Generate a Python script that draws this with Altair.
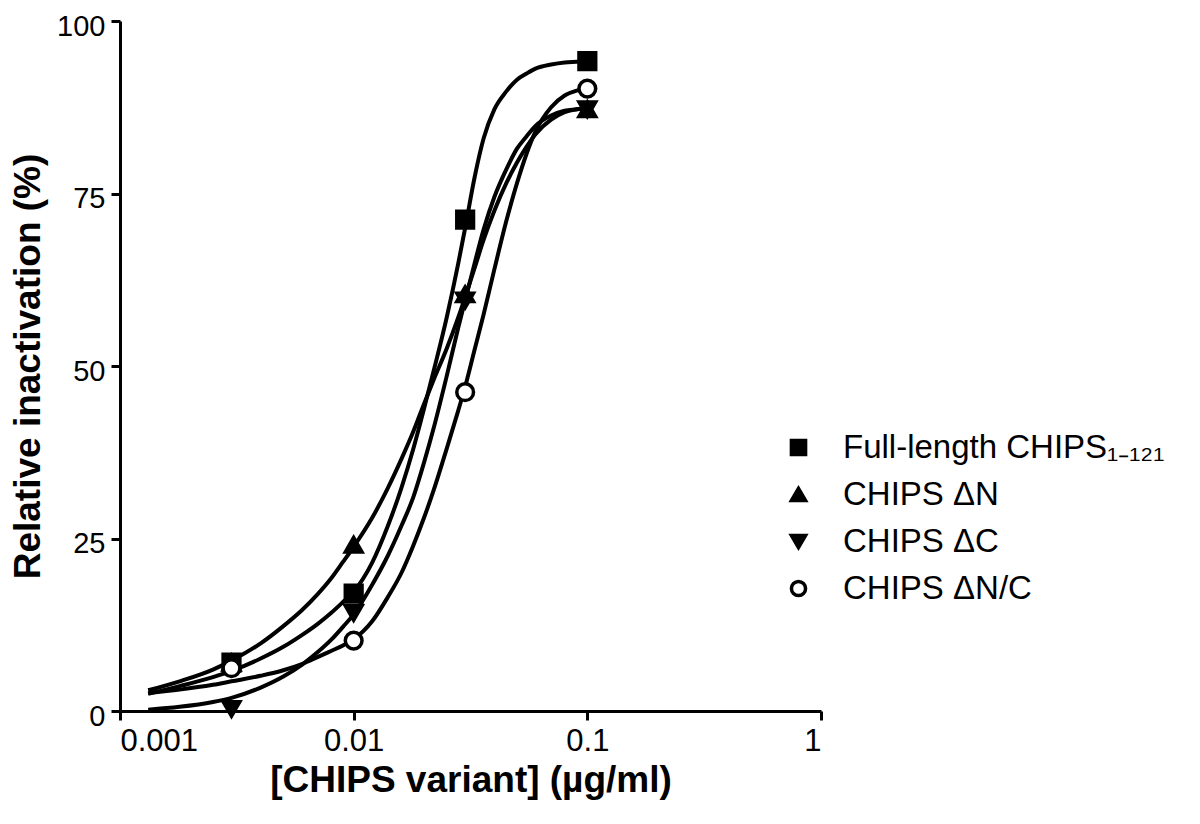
import altair as alt
import pandas as pd

# ---- data ----
series_names = ["Full-length CHIPS\u2081\u208b\u2081\u2082\u2081", "CHIPS \u0394N", "CHIPS \u0394C", "CHIPS \u0394N/C"]
shapes = ["square", "triangle-up", "triangle-down", "circle"]
fills = ["black", "black", "black", "white"]
strokes = ["black", "black", "black", "black"]

conc = [0.003, 0.01, 0.03, 0.1]
pts_full = [7.0, 17.0, 71.2, 94.2]
pts_dn = [7.0, 24.1, 60.4, 87.2]
pts_dc = [0.3, 14.2, 59.5, 87.2]
pts_dnc = [6.2, 10.2, 46.2, 90.2]

curve_x = [0.00132, 0.0018, 0.0025, 0.003, 0.004, 0.005, 0.006, 0.007, 0.008, 0.009,
           0.01, 0.012, 0.014, 0.016, 0.018, 0.02, 0.022, 0.025, 0.028, 0.03,
           0.033, 0.036, 0.04, 0.045, 0.05, 0.055, 0.06, 0.07, 0.08, 0.09, 0.1]
curve_full = [2.5, 3.6, 4.9, 5.8, 7.6, 9.3, 11.0, 12.6, 14.2, 15.8,
              17.3, 21.5, 26.8, 32.3, 38.0, 43.8, 49.3, 57.0, 64.8, 70.0,
              77.5, 83.0, 87.2, 89.8, 91.5, 92.4, 93.1, 93.7, 94.0, 94.1, 94.2]
curve_dn = [3.0, 4.3, 6.0, 7.3, 9.8, 12.3, 14.6, 16.9, 19.2, 21.6,
            23.8, 28.0, 32.3, 36.5, 40.5, 44.5, 48.0, 52.5, 57.0, 60.0,
            64.3, 68.3, 72.5, 76.5, 79.5, 81.8, 83.6, 85.7, 86.8, 87.2, 87.4]
curve_dc = [0.2, 0.6, 1.3, 1.9, 3.4, 5.0, 6.7, 8.5, 10.3, 12.2,
            14.0, 18.3, 22.5, 26.8, 31.0, 36.0, 41.0, 48.5, 55.5, 59.5,
            65.0, 69.8, 74.5, 78.5, 81.5, 83.3, 84.8, 86.3, 87.0, 87.2, 87.4]
curve_dnc = [2.6, 3.1, 3.8, 4.3, 5.1, 5.9, 6.8, 7.8, 8.7, 9.5,
             10.4, 13.0, 16.5, 20.0, 24.0, 28.0, 32.0, 38.0, 43.5, 47.0,
             52.5, 57.5, 64.0, 71.0, 76.5, 80.8, 84.0, 87.5, 89.2, 89.9, 90.2]

x_ticks = [0.001, 0.01, 0.1, 1]
y_ticks = [0, 25, 50, 75, 100]

# ---- tables ----
pt_rows = []
for name, vals in zip(series_names, [pts_full, pts_dn, pts_dc, pts_dnc]):
    for xv, yv in zip(conc, vals):
        pt_rows.append({"series": name, "x": xv, "y": yv})
pts_df = pd.DataFrame(pt_rows)

cv_rows = []
for name, vals in zip(series_names, [curve_full, curve_dn, curve_dc, curve_dnc]):
    for i, (xv, yv) in enumerate(zip(curve_x, vals)):
        cv_rows.append({"series": name, "x": xv, "y": yv, "i": i})
cv_df = pd.DataFrame(cv_rows)

FONT = "Liberation Sans"

x_enc = alt.X("x:Q",
              scale=alt.Scale(type="log", domain=[0.001, 1]),
              axis=alt.Axis(values=x_ticks, labelExpr="format(datum.value, '~g')",
                            title="[CHIPS variant] (\u00b5g/ml)", titleFontSize=37,
                            labelFontSize=31, titlePadding=6))
y_enc = alt.Y("y:Q",
              scale=alt.Scale(domain=[0, 100]),
              axis=alt.Axis(values=y_ticks, title="Relative inactivation (%)",
                            titleFontSize=37, labelFontSize=29, labelOffset=5,
                            titleX=-73, titleBaseline="bottom"))

curves = alt.Chart(cv_df).mark_line(color="black", strokeWidth=4, interpolate="monotone").encode(
    x=x_enc, y=y_enc, detail="series:N", order="i:Q"
)

leg = alt.Legend(title=None, orient="none", legendX=662, legendY=410,
                 labelFont=FONT, labelFontSize=33, labelColor="black",
                 symbolSize=200, symbolStrokeWidth=3.5,
                 labelOffset=28, rowPadding=13, padding=0, labelLimit=500)

points = alt.Chart(pts_df).mark_point(filled=False, size=280, strokeWidth=3.5, opacity=1).encode(
    x=x_enc, y=y_enc,
    shape=alt.Shape("series:N", scale=alt.Scale(domain=series_names, range=shapes),
                    sort=series_names, legend=leg),
    fill=alt.Fill("series:N", scale=alt.Scale(domain=series_names, range=fills),
                  sort=series_names, legend=leg),
    stroke=alt.Stroke("series:N", scale=alt.Scale(domain=series_names, range=strokes),
                      sort=series_names, legend=leg),
)

chart = alt.layer(curves, points).properties(
    width=701, height=690,
    autosize=alt.AutoSizeParams(type="none"),
    padding={"left": 112, "top": 13, "right": 371, "bottom": 100},
).configure_view(stroke=None).configure_axis(
    grid=False,
    domainColor="black", domainWidth=3,
    tickColor="black", tickWidth=3, tickSize=9,
    labelFont=FONT, labelColor="black", labelPadding=6,
    titleFont=FONT, titleFontWeight="bold", titleColor="black",
)

chart.save("out.html", embed_options={"renderer": "svg", "actions": False})
